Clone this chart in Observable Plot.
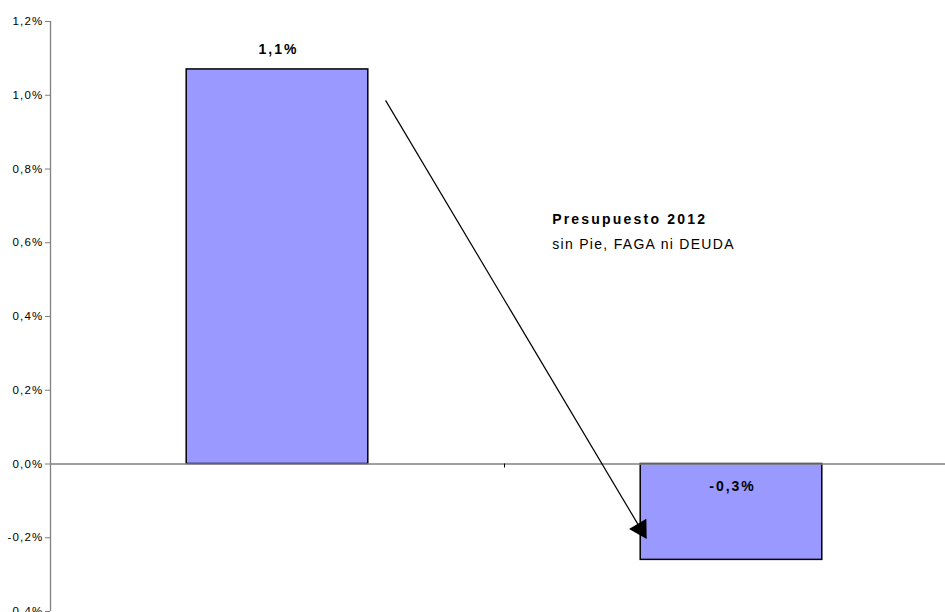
<!DOCTYPE html>
<html><head><meta charset="utf-8">
<script src="https://cdn.jsdelivr.net/npm/d3@7"></script>
<script src="https://cdn.jsdelivr.net/npm/@observablehq/plot@0.6"></script>
<style>
html,body{margin:0;padding:0;background:#fff;overflow:hidden}
svg{overflow:visible}
</style></head>
<body><div id="chart"></div>
<script>
const categories = ["Presupuesto 2011", "Presupuesto 2012"];
const values = [0.0107, -0.0026];
const valueLabels = ["1,1%", "-0,3%"];
const yTicks = [-0.004, -0.002, 0, 0.002, 0.004, 0.006, 0.008, 0.010, 0.012];
const annotTitle = "Presupuesto 2012";
const annotSub = "sin Pie, FAGA ni DEUDA";
// arrow annotation endpoints in data units (x = category index units, y = share)
const arrowFrom = {x: 0.738, y: 0.00986};
const arrowTo = {x: 1.30, y: -0.00176};
const annotPos = {x: 1.105, y: 0.0066};

const data = categories.map((c, i) => ({cat: c, i, value: values[i], label: valueLabels[i]}));
const fmt = d => (d * 100).toFixed(1).replace(".", ",") + "%";
const font = "Liberation Sans, Arial, sans-serif";

const chart = Plot.plot({
  width: 945, height: 612,
  marginLeft: 50, marginRight: 0, marginTop: 21, marginBottom: 1,
  style: {fontFamily: font, fontSize: "11.5px", color: "#000", background: "#fff", overflow: "visible"},
  x: {type: "linear", domain: [0, 2], range: [50, 958], axis: null},
  y: {domain: [-0.004, 0.012], ticks: yTicks},
  marks: [
    Plot.axisY({ticks: yTicks, tickFormat: fmt, tickSize: 5, tickPadding: 2, stroke: "#808080", strokeOpacity: 1, fill: "#000", fontSize: 11.5}),
    Plot.ruleX([0], {y1: -0.004, y2: 0.012, stroke: "#808080", strokeWidth: 1.3}),
    Plot.rectY(data, {x1: d => d.i + 0.3, x2: d => d.i + 0.7, y1: 0, y2: "value", fill: "#9999FF", stroke: "#000", strokeWidth: 1.5}),
    Plot.ruleY([0], {x1: 0, x2: 2, stroke: "#808080", strokeWidth: 1.3}),
    Plot.ruleX([1], {x: d => d, y1: 0, y2: 0, insetBottom: -4, stroke: "#000", strokeWidth: 1}),
    Plot.text(data.filter(d => d.value >= 0), {x: d => d.i + 0.5, y: "value", text: "label", dy: -20, fontWeight: "bold", fontSize: 14, fill: "#000"}),
    Plot.text(data.filter(d => d.value < 0), {x: d => d.i + 0.5, y: 0, text: "label", dy: 23, fontWeight: "bold", fontSize: 14, fill: "#000"}),
    Plot.link([arrowFrom], {x1: "x", y1: "y", x2: () => arrowTo.x, y2: () => arrowTo.y, stroke: "#000", strokeWidth: 1.2}),
    Plot.dot([arrowTo], {x: "x", y: "y", symbol: "triangle", r: 7.5, fill: "#000", stroke: "none", rotate: 149}),
    Plot.text([annotTitle], {x: annotPos.x, y: annotPos.y, text: d => d, textAnchor: "start", fontWeight: "bold", fontSize: 14, fill: "#000", dy: -1}),
    Plot.text([annotSub], {x: annotPos.x, y: annotPos.y, text: d => d, textAnchor: "start", fontSize: 14, fill: "#000", dy: 24})
  ]
});
chart.querySelectorAll("text").forEach(t => {
  const s = t.textContent;
  if (s === annotTitle) t.setAttribute("letter-spacing", "2.2");
  else if (s === annotSub) t.setAttribute("letter-spacing", "1.3");
  else if (valueLabels.includes(s)) { t.setAttribute("letter-spacing", "2"); t.setAttribute("dx", "1"); }
  else if (yTicks.map(fmt).includes(s)) t.setAttribute("letter-spacing", "1.2");
});
document.getElementById("chart").appendChild(chart);
</script>
</body></html>
